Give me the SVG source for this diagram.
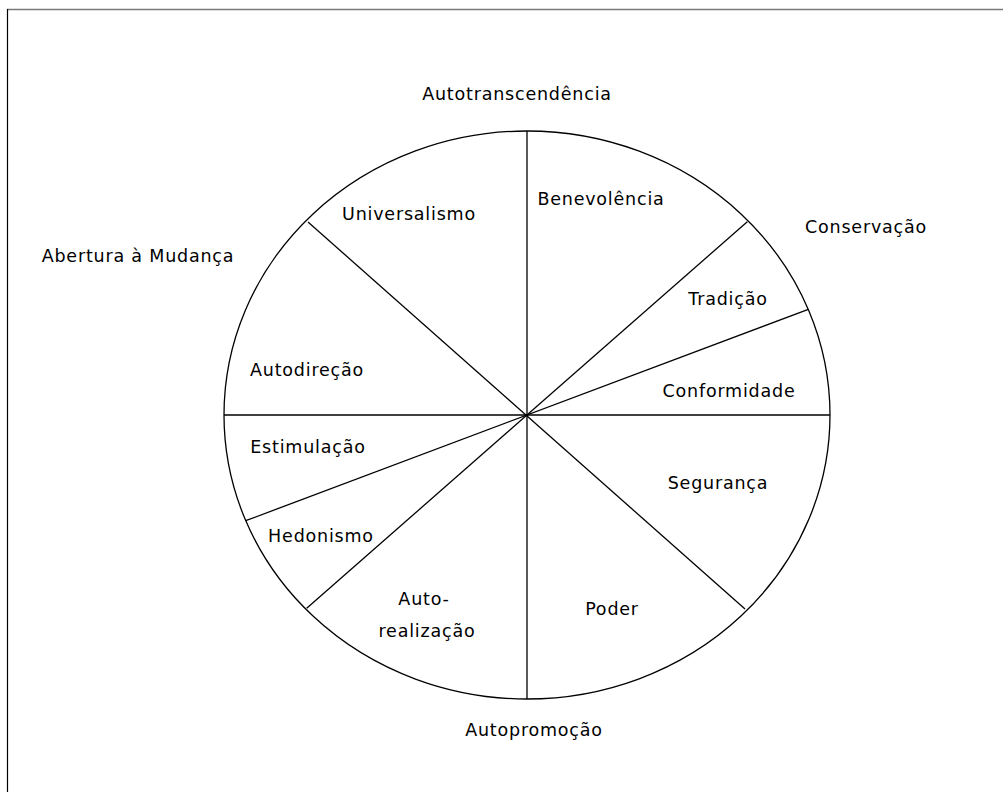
<svg xmlns="http://www.w3.org/2000/svg" width="1003" height="792" viewBox="0 0 1003 792">
<style>
.t{font-family:"DejaVu Sans","Liberation Sans",sans-serif;font-size:17.5px;fill:#000;text-anchor:middle;letter-spacing:0.8px}
.ln{stroke:#000;stroke-width:1.3;fill:none}
</style>
<rect width="1003" height="792" fill="#fff"/>
<g id="frame">
<line x1="7" y1="9.5" x2="1003" y2="9.5" stroke="#7a7a7a" stroke-width="1.6"/>
<line x1="7.5" y1="9" x2="7.5" y2="792" stroke="#000" stroke-width="1.2"/>
</g>
<g id="connectors">
<ellipse class="ln" cx="527" cy="415" rx="303" ry="284"/>
<line class="ln" x1="527" y1="131" x2="527" y2="699"/>
<line class="ln" x1="224" y1="415" x2="830" y2="415"/>
<line class="ln" x1="747.3" y1="221.7" x2="306.7" y2="608.3"/>
<line class="ln" x1="808.3" y1="309.3" x2="245.7" y2="520.7"/>
<line class="ln" x1="308" y1="222" x2="745" y2="609"/>
</g>
<g id="autotranscendencia"><text class="t" x="517" y="100">Autotranscendência</text></g>
<g id="abertura"><text class="t" x="138" y="262">Abertura à Mudança</text></g>
<g id="conservacao"><text class="t" x="866" y="233">Conservação</text></g>
<g id="autopromocao"><text class="t" x="534" y="736">Autopromoção</text></g>
<g id="benevolencia"><text class="t" x="601" y="205">Benevolência</text></g>
<g id="universalismo"><text class="t" x="409" y="220">Universalismo</text></g>
<g id="tradicao"><text class="t" x="728" y="305">Tradição</text></g>
<g id="autodirecao"><text class="t" x="307" y="376">Autodireção</text></g>
<g id="conformidade"><text class="t" x="729" y="397">Conformidade</text></g>
<g id="estimulacao"><text class="t" x="308" y="453">Estimulação</text></g>
<g id="seguranca"><text class="t" x="718" y="489">Segurança</text></g>
<g id="hedonismo"><text class="t" x="321" y="542">Hedonismo</text></g>
<g id="autorealizacao"><text class="t" x="424" y="605">Auto-</text><text class="t" x="427" y="637">realização</text></g>
<g id="poder"><text class="t" x="612" y="615">Poder</text></g>
</svg>
